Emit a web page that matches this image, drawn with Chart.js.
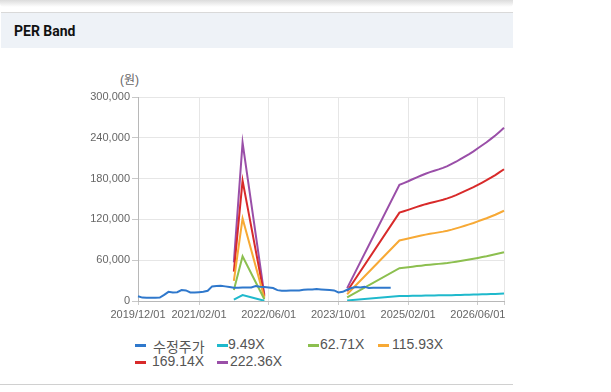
<!DOCTYPE html>
<html>
<head>
<meta charset="utf-8">
<script src="https://cdn.jsdelivr.net/npm/chart.js@4.4.1/dist/chart.umd.min.js"></script>
<style>
    html, body { margin: 0; padding: 0; background: #fff; }
    body { width: 611px; height: 392px; position: relative; overflow: hidden; font-family: "Liberation Sans", Arial, "Noto Sans CJK KR", sans-serif; }
    .shadow { position: absolute; left: 0; top: 0; width: 513px; height: 7px; background: linear-gradient(#dcdcdc, #ffffff); border-radius: 0 0 4px 4px; }
    .head { position: absolute; left: 1px; top: 12px; width: 512px; height: 35px; background: #eef2f7; border-top: 1px solid #d9d9d9; }
    .head span { position: absolute; left: 13px; top: 10px; font: bold 14px Roboto, "Noto Sans", sans-serif; color: #111; }
    .foot { position: absolute; left: 0; top: 384px; width: 513px; height: 1px; background: #d0d0d0; }
    .unit { position: absolute; left: 120px; top: 70px; font-size: 12px; color: #666; }
    #chartBox { position: absolute; left: 60px; top: 85px; }
    .lg { position: absolute; font-size: 14px; color: #555; white-space: nowrap; }
    .lg i { position: absolute; width: 11px; height: 3px; }
</style>
</head>
<body>
<div class="shadow"></div>
<div class="head"><span>PER Band</span></div>
<div class="unit">(원)</div>
<div id="chartBox"><canvas id="perChart" width="455" height="240"></canvas></div>
<div id="legend"></div>
<div class="foot"></div>
<script>
    // Months 2019/12 .. 2026/12
    var months = [];
    var yy = 2019, mm = 12;
    while (months.length < 85) {
        months.push(yy + '/' + (mm < 10 ? '0' + mm : mm) + '/01');
        mm++;
        if (mm > 12) { mm = 1; yy++; }
    }
    var tickLabels = ['2019/12/01', '2021/02/01', '2022/06/01', '2023/10/01', '2025/02/01', '2026/06/01'];

    // 수정주가 (monthly from 2019/12)
    var price = [7000, 5000, 4800, 4800, 4800, 5000, 9000, 13500, 12500, 13000,
        16000, 15500, 12500, 12500, 13000, 13500, 15000, 21500, 22000, 22500,
        21500, 20500, 19500, 19500, 19800, 19800, 20000, 22000, 21000, 20500,
        20000, 19000, 16000, 15000, 15000, 15500, 15500, 15500, 16500, 17000,
        17000, 17500, 17000, 16500, 16000, 15500, 12500, 13500, 16500, 19000,
        20500, 20000, 21000, 19000, 19500, 19500, 19500, 19500, 19500];

    // Band dates (null row breaks the line between the two blocks)
    var bandDates = ['2021/10/01', '2021/12/01', '2022/05/01', '2023/01/01', '2023/12/01'].concat(months.slice(60));

    var per949 = [2000, 8800, 300, null, 800, 7300, 7400, 7500, 7600, 7800, 7900, 8000, 8100, 8200, 8300,
        8400, 8500, 8600, 8700, 8900, 9100, 9200, 9400, 9600, 9800, 10000, 10200, 10400, 10600, 10900];
    var per6271 = [16000, 65700, 2500, null, 5300, 48200, 48900, 49700, 50500, 51300, 52000, 52800, 53400, 54000, 54600,
        55200, 55900, 56800, 57800, 58800, 59900, 61000, 62100, 63300, 64600, 65800, 67200, 68700, 70200, 71800];
    var per11593 = [29600, 121400, 4600, null, 9900, 89000, 90400, 91800, 93300, 94800, 96200, 97600, 98800, 99800, 100900,
        102000, 103400, 105000, 106800, 108700, 110700, 112700, 114800, 117100, 119400, 121700, 124300, 126900, 129800, 132700];
    var per16914 = [43100, 177100, 6800, null, 14400, 129900, 131900, 134000, 136200, 138400, 140400, 142400, 144100, 145600, 147200,
        148800, 150900, 153200, 155800, 158700, 161500, 164400, 167400, 170800, 174200, 177600, 181300, 185200, 189400, 193700];
    var per22236 = [56700, 232800, 8900, null, 18900, 170800, 173400, 176100, 179000, 181900, 184600, 187200, 189500, 191500, 193500,
        195700, 198300, 201500, 204800, 208600, 212400, 216100, 220100, 224600, 229000, 233500, 238400, 243500, 249000, 254600];

    var seriesNames = ['수정주가', '9.49X', '62.71X', '115.93X', '169.14X', '222.36X'];
    var seriesColors = ['#2f78cc', '#1fb9cc', '#8cbf4f', '#f7a935', '#d82a2a', '#9a4fa8'];

    var toPoints = function (values) {
        var pts = [];
        for (var i = 0; i < values.length; i++) {
            pts.push({ x: bandDates[i], y: values[i] });
        }
        return pts;
    };

    var seriesData = [price, toPoints(per949), toPoints(per6271), toPoints(per11593), toPoints(per16914), toPoints(per22236)];
    var datasets = [];
    for (var s = 0; s < seriesNames.length; s++) {
        datasets.push({
            label: seriesNames[s],
            data: seriesData[s],
            borderColor: seriesColors[s],
            backgroundColor: seriesColors[s],
            borderWidth: 2,
            pointRadius: 0,
            tension: 0,
            fill: false
        });
    }

    var tickFont = { family: '"Liberation Sans", Arial, sans-serif', size: 11 };

    var ctx = document.getElementById('perChart').getContext('2d');
    var chart = new Chart(ctx, {
        type: 'line',
        data: { labels: months, datasets: datasets },
        options: {
            responsive: false,
            animation: false,
            devicePixelRatio: 1,
            layout: { padding: { top: 12, right: 11, left: 0, bottom: 0 } },
            plugins: { legend: { display: false }, tooltip: { enabled: false } },
            scales: {
                x: {
                    type: 'category',
                    afterFit: function (scale) { scale.height = 24; },
                    grid: { color: '#e6e6e6', tickColor: '#cccccc', tickLength: 4 },
                    border: { color: '#b8b8b8' },
                    ticks: {
                        autoSkip: false,
                        maxRotation: 0,
                        padding: 3,
                        color: '#666',
                        font: tickFont,
                        callback: function (value, index) {
                            var label = months[index];
                            if (tickLabels.indexOf(label) >= 0) return label;
                            if (index === months.length - 1) return '';
                            return null;
                        }
                    }
                },
                y: {
                    min: 0,
                    max: 300000,
                    afterFit: function (scale) { scale.width = 78; },
                    grid: { color: '#e6e6e6', tickColor: '#c8c8c8', tickLength: 6 },
                    border: { color: '#b8b8b8' },
                    ticks: {
                        stepSize: 60000,
                        padding: 2,
                        color: '#666',
                        font: tickFont,
                        callback: function (v) { return v.toLocaleString('en-US'); }
                    }
                }
            }
        }
    });

    // Legend
    var legendPos = [[135, 345, 153], [217, 345, 228], [308, 345, 320], [378, 345, 392], [135, 362, 152], [217, 362, 230]];
    var legendBox = document.getElementById('legend');
    for (var k = 0; k < chart.data.datasets.length; k++) {
        var ds = chart.data.datasets[k];
        var item = document.createElement('div');
        item.className = 'lg';
        item.style.left = legendPos[k][0] + 'px';
        item.style.top = (legendPos[k][1] - 9) + 'px';
        item.innerHTML = '<i style="left:0;top:8px;background:' + ds.borderColor + '"></i>' +
            '<span style="position:absolute;left:' + (legendPos[k][2] - legendPos[k][0]) + 'px;top:0">' + ds.label + '</span>';
        legendBox.appendChild(item);
    }
</script>
</body>
</html>
